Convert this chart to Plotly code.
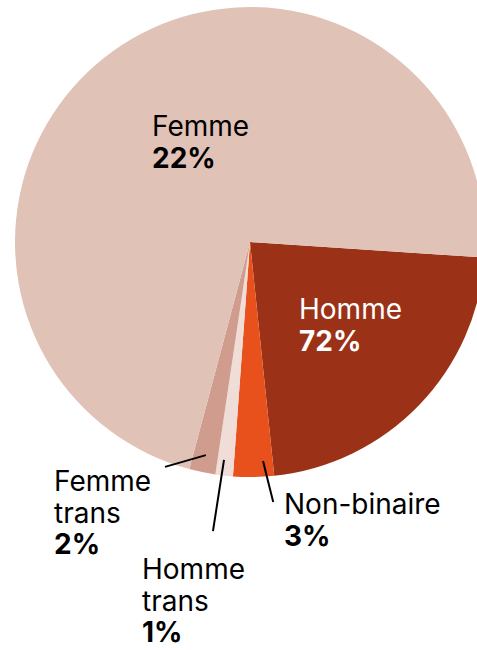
import math
import plotly.graph_objects as go

# ---- data ----
categories = ["Homme", "Non-binaire", "Homme trans", "Femme trans", "Femme"]
values = [22.3, 2.8, 1.2, 1.8, 71.9]
label_lines = [["Homme"], ["Non-binaire"], ["Homme", "trans"], ["Femme", "trans"], ["Femme"]]
pct_labels = ["72%", "3%", "1%", "2%", "22%"]
colors = ["#9b3218", "#e8501c", "#f0ddd7", "#d09c8e", "#e0c2b7"]

W, H = 490, 650
CX, CY, R = 250, 242, 235  # pie centre / radius in px

fig = go.Figure(go.Pie(
    labels=categories, values=values, sort=False, direction="clockwise",
    rotation=93.8, marker=dict(colors=colors, line=dict(width=0)),
    textinfo="none", hoverinfo="label+percent", showlegend=False,
    domain=dict(x=[(CX - R) / W, (CX + R) / W], y=[1 - (CY + R) / H, 1 - (CY - R) / H]),
))

def px(x, y):
    return x / W, 1 - y / H

def polar(ang, f):
    a = math.radians(ang)
    return CX + R * f * math.sin(a), CY - R * f * math.cos(a)

# label layout: left x, first-line cap-middle y (px), colour
label_pos = [(300, 308, "white"), (285, 503, "black"), (143, 568, "black"), (55, 480, "black"), (153, 125, "black")]
STEPS = [31.5, 31.5, 31.5, 31.5, 31.5]
leaders = {1: (176.6, 0.934, 174.9, 1.111), 2: (186.8, 0.934, 187.3, 1.24), 3: (191.7, 0.926, 200.7, 1.023)}

FONT = "Inter"
FS = 28
for i, (x, y, c) in enumerate(label_pos):
    lines = label_lines[i] + [f"<b>{pct_labels[i]}</b>"]
    for k, t in enumerate(lines):
        ax_, ay_ = px(x - 2, y + k * STEPS[i] + 1)
        fig.add_annotation(
            x=ax_, y=ay_, xref="paper", yref="paper", xanchor="left", yanchor="middle",
            text=t, showarrow=False, align="left", borderpad=0,
            font=dict(family=FONT, size=FS, color=c),
        )

for i, (a1, f1, a2, f2) in leaders.items():
    x0, y0 = px(*polar(a1, f1))
    x1, y1 = px(*polar(a2, f2))
    fig.add_shape(type="line", xref="paper", yref="paper", x0=x0, y0=y0, x1=x1, y1=y1,
                  line=dict(color="black", width=2))

fig.update_layout(width=W, height=H, margin=dict(l=0, r=0, t=0, b=0),
                  paper_bgcolor="white", plot_bgcolor="white")

fig.write_html("out.html", config={"displayModeBar": False},
               post_script="document.body.style.margin='0';document.body.style.overflow='hidden';")
